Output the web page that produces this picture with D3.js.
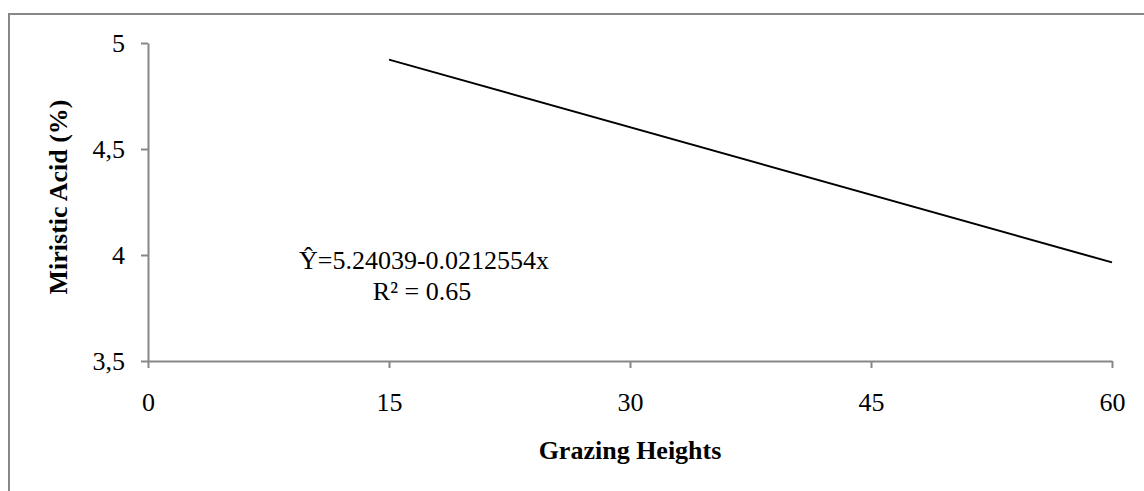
<!DOCTYPE html>
<html><head><meta charset="utf-8">
<script src="https://cdn.jsdelivr.net/npm/d3@7"></script>
<style>body{margin:0;background:#fff}svg{display:block}text{font-family:"Liberation Serif","Times New Roman",serif}</style>
</head><body>
<script>
const xTicks = [0, 15, 30, 45, 60];
const yTicks = [3.5, 4, 4.5, 5];
const yTickLabels = ["3,5", "4", "4,5", "5"];
const lineX = [15, 60];
const intercept = 5.24039;
const slope = -0.0212554;
const lineY = lineX.map(x => intercept + slope * x);
const eqText = "Ŷ=5.24039-0.0212554x";
const r2Text = "R² = 0.65";
const xTitle = "Grazing Heights";
const yTitle = "Miristic Acid (%)";

const W = 1144, H = 491, FS = 26;
const svg = d3.select("body").append("svg").attr("width", W).attr("height", H);
// outer frame (top and left visible)
svg.append("path").attr("d", `M9,${H} L9,14 L${W},14`).attr("fill","none").attr("stroke","#878787").attr("stroke-width",2);

const x = d3.scaleLinear().domain([0, 60]).range([148, 1112]);
const y = d3.scaleLinear().domain([3.5, 5]).range([361, 43]);

const gx = svg.append("g").attr("transform", "translate(0,361)")
  .call(d3.axisBottom(x).tickValues(xTicks).tickSize(7).tickSizeOuter(0).tickPadding(25));
const gy = svg.append("g").attr("transform", "translate(148,0)")
  .call(d3.axisLeft(y).tickValues(yTicks).tickFormat((d,i)=>yTickLabels[i]).tickSize(7).tickSizeOuter(0).tickPadding(16));
[gx, gy].forEach(g => {
  g.select(".domain").attr("stroke","#878787").attr("stroke-width",2);
  g.selectAll(".tick line").attr("stroke","#878787").attr("stroke-width",2);
  g.selectAll(".tick text").attr("font-size", FS).attr("fill","#000").attr("font-family",'"Liberation Serif",serif');
});

svg.append("path").datum(lineX.map((d,i)=>[d, lineY[i]]))
  .attr("d", d3.line().x(d=>x(d[0])).y(d=>y(d[1])))
  .attr("fill","none").attr("stroke","#000").attr("stroke-width",2);

svg.append("text").attr("x", 424).attr("y", 269).attr("text-anchor","middle").attr("font-size",FS).text(eqText);
svg.append("text").attr("x", 422).attr("y", 300).attr("text-anchor","middle").attr("font-size",FS).text(r2Text);

svg.append("text").attr("x", 630).attr("y", 459).attr("text-anchor","middle").attr("font-size",FS).attr("font-weight","bold").text(xTitle);
svg.append("text").attr("transform","translate(67,197) rotate(-90)").attr("text-anchor","middle").attr("font-size",FS).attr("font-weight","bold").text(yTitle);
</script>
</body></html>
